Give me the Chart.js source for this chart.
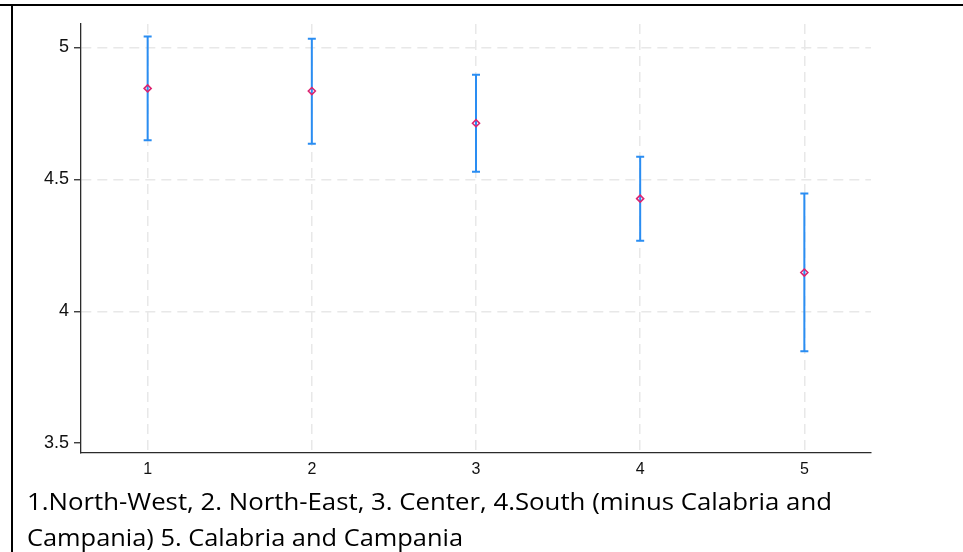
<!DOCTYPE html>
<html>
<head>
<meta charset="utf-8">
<script src="https://cdn.jsdelivr.net/npm/chart.js@4/dist/chart.umd.min.js"></script>
<style>
  body { margin: 0; background: #fff; }
  #wrap { position: relative; width: 963px; height: 552px; overflow: hidden; background: #fff; }
  #plot { position: absolute; left: 0; top: 0; }
  .rule { position: absolute; background: #000; }
  #topRule { left: 0; top: 4px; width: 963px; height: 2px; }
  #leftRule { left: 11px; top: 4px; width: 2px; height: 548px; }
  .note {
    position: absolute; left: 27px; margin: 0;
    font-family: "Open Sans", "Noto Sans", sans-serif; font-size: 23px; line-height: 1;
    white-space: nowrap; color: #000; transform-origin: 0 0;
  }
</style>
</head>
<body>
<div id="wrap">
  <canvas id="plot" width="963" height="552"></canvas>
  <div class="rule" id="topRule"></div>
  <div class="rule" id="leftRule"></div>
  <p class="note" id="note1" data-width="805" style="top:490px">1.North-West, 2. North-East, 3. Center, 4.South (minus Calabria and</p>
  <p class="note" id="note2" data-width="436" style="top:526px">Campania) 5. Calabria and Campania</p>
</div>
<script>
// region codes and the mean with its confidence interval
const regions = [1, 2, 3, 4, 5];
const means = [4.845, 4.835, 4.713, 4.427, 4.147];
const lower = [4.648, 4.635, 4.529, 4.267, 3.849];
const upper = [5.042, 5.033, 4.897, 4.586, 4.447];
const yTicks = [3.5, 4, 4.5, 5];

const gridColor = '#e8e8e8';
const axisColor = '#2b2b2b';

// vertical capped bars from lower to upper
const errorBars = {
    id: 'errorBars',
    beforeDatasetsDraw(chart) {
        const { ctx, scales: { x, y } } = chart;
        ctx.save();
        ctx.strokeStyle = '#2a8df2';
        ctx.lineWidth = 2;
        regions.forEach((r, i) => {
            const px = x.getPixelForValue(r);
            const top = y.getPixelForValue(upper[i]);
            const bot = y.getPixelForValue(lower[i]);
            ctx.beginPath();
            ctx.moveTo(px, top);
            ctx.lineTo(px, bot);
            ctx.moveTo(px - 4, top);
            ctx.lineTo(px + 4, top);
            ctx.moveTo(px - 4, bot);
            ctx.lineTo(px + 4, bot);
            ctx.stroke();
        });
        ctx.restore();
    }
};

const ctx = document.getElementById('plot').getContext('2d');
const meanChart = new Chart(ctx, {
    type: 'scatter',
    data: {
        datasets: [{
            data: regions.map((r, i) => ({ x: r, y: means[i] })),
            pointStyle: 'rectRot',
            radius: 3.5,
            borderWidth: 1.6,
            borderColor: '#dc2470',
            backgroundColor: 'rgba(0,0,0,0)'
        }]
    },
    options: {
        responsive: false,
        animation: false,
        layout: { padding: { top: 24, right: 92, left: 0, bottom: 0 } },
        plugins: { legend: { display: false }, tooltip: { enabled: false } },
        scales: {
            x: {
                type: 'linear',
                min: 0.594,
                max: 5.406,
                afterBuildTicks: scale => { scale.ticks = regions.map(v => ({ value: v })); },
                afterFit: scale => { scale.height = 99; },
                grid: { color: gridColor, lineWidth: 1.5, drawTicks: false },
                border: { color: axisColor, width: 1.3, dash: [10, 6] },
                ticks: { padding: 7, color: '#111', font: { family: 'Liberation Sans', size: 16 } }
            },
            y: {
                min: 3.463,
                max: 5.089,
                afterBuildTicks: scale => { scale.ticks = yTicks.map(v => ({ value: v })); },
                afterFit: scale => { scale.width = 81; },
                grid: {
                    color: c => (c.tick && c.tick.value === 3.5 ? 'rgba(0,0,0,0)' : gridColor),
                    lineWidth: 1.5,
                    tickLength: 7,
                    tickColor: axisColor,
                    tickWidth: 1.3,
                    tickBorderDash: []
                },
                border: { color: axisColor, width: 1.3, dash: [10, 6] },
                ticks: {
                    padding: 5,
                    color: '#111',
                    font: { family: 'Liberation Sans', size: 18 },
                    callback: v => String(v)
                }
            }
        }
    },
    plugins: [errorBars]
});

// stretch each caption line to its set width
document.querySelectorAll('.note').forEach(el => {
    const k = Number(el.dataset.width) / el.getBoundingClientRect().width;
    el.style.transform = `scaleX(${k})`;
});
</script>
</body>
</html>
